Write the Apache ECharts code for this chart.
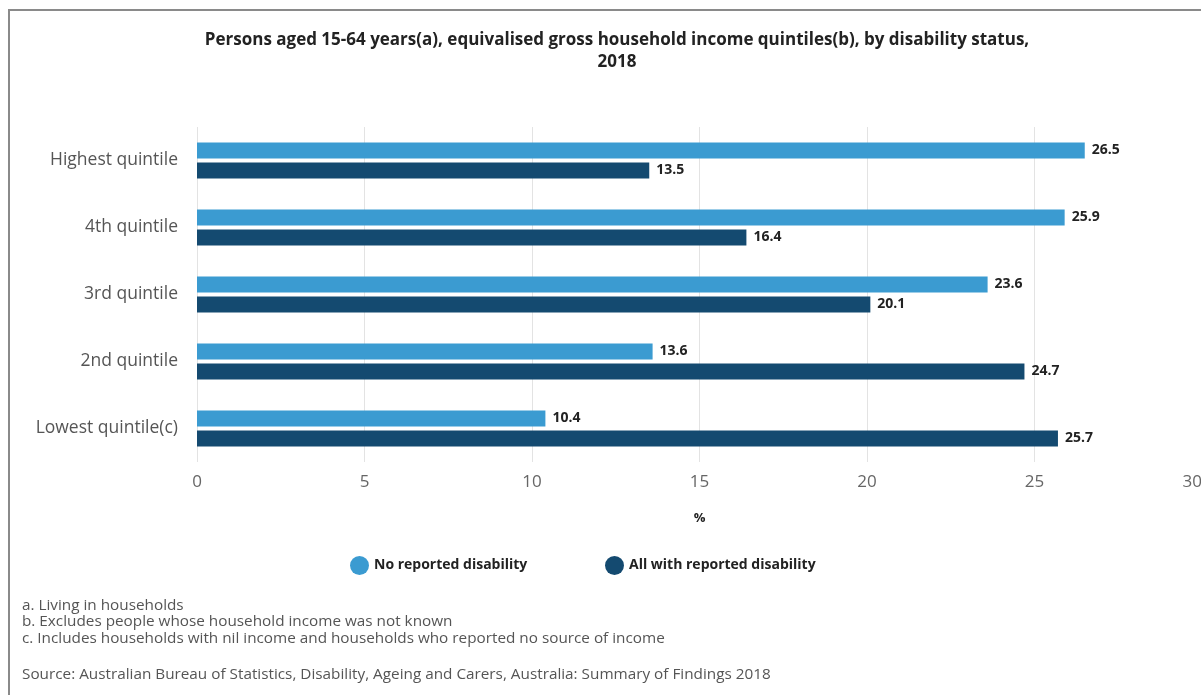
<!DOCTYPE html>
<html>
<head>
<meta charset="utf-8">
<script src="https://cdn.jsdelivr.net/npm/echarts@6/dist/echarts.min.js"></script>
<style>
  html, body { margin: 0; padding: 0; background: #fff; }
  #chart { width: 1201px; height: 695px; }
</style>
</head>
<body>
<div id="chart"></div>
<script>
const categories = ['Highest quintile', '4th quintile', '3rd quintile', '2nd quintile', 'Lowest quintile(c)'];
const noDisability = [26.5, 25.9, 23.6, 13.6, 10.4];
const withDisability = [13.5, 16.4, 20.1, 24.7, 25.7];
const footnotes = [
  'a. Living in households',
  'b. Excludes people whose household income was not known',
  'c. Includes households with nil income and households who reported no source of income'
];
const sourceText = 'Source: Australian Bureau of Statistics, Disability, Ageing and Carers, Australia: Summary of Findings 2018';

const font = '"Open Sans", "Noto Sans", sans-serif';
const chart = echarts.init(document.getElementById('chart'));

const valueLabel = {
  show: true,
  position: 'right',
  distance: 7,
  color: '#222',
  fontFamily: font,
  fontWeight: 'bold',
  fontSize: 14
};

const legendText = { fontFamily: font, fontSize: 14, fontWeight: 'bold', color: '#222' };

chart.setOption({
  animation: false,
  title: {
    text: 'Persons aged 15-64 years(a), equivalised gross household income quintiles(b), by disability status,\n2018',
    left: 612,
    top: 24,
    textAlign: 'center',
    textStyle: {
      fontFamily: font,
      fontSize: 17,
      fontWeight: 'bold',
      color: '#222',
      lineHeight: 22
    }
  },
  legend: [
    {
      data: ['No reported disability'],
      left: 345,
      top: 551,
      icon: 'circle',
      itemWidth: 19,
      itemHeight: 19,
      textStyle: legendText
    },
    {
      data: ['All with reported disability'],
      left: 600,
      top: 551,
      icon: 'circle',
      itemWidth: 19,
      itemHeight: 19,
      textStyle: legendText
    }
  ],
  grid: {
    left: 197,
    top: 127,
    width: 1005,
    height: 335,
    containLabel: false,
    outerBoundsMode: 'none'
  },
  xAxis: {
    type: 'value',
    min: 0,
    max: 30,
    interval: 5,
    name: '%',
    nameLocation: 'middle',
    nameGap: 50,
    nameTextStyle: { fontFamily: font, fontSize: 13, fontWeight: 'bold', color: '#222' },
    axisLine: { show: false },
    axisTick: { show: false },
    axisLabel: { margin: 12, fontFamily: font, fontSize: 17, color: '#666', alignMaxLabel: 'right' },
    splitLine: { lineStyle: { color: '#e3e3e3', width: 1 } }
  },
  yAxis: {
    type: 'category',
    inverse: true,
    data: categories,
    axisLine: { show: false },
    axisTick: { show: false },
    axisLabel: { margin: 19, fontFamily: font, fontSize: 17.5, color: '#555' }
  },
  series: [
    {
      name: 'No reported disability',
      type: 'bar',
      data: noDisability,
      barWidth: 16,
      barGap: '25%',
      itemStyle: { color: '#3b9bd1' },
      label: valueLabel
    },
    {
      name: 'All with reported disability',
      type: 'bar',
      data: withDisability,
      barWidth: 16,
      barGap: '25%',
      itemStyle: { color: '#144a70' },
      label: valueLabel
    }
  ],
  graphic: [
    {
      type: 'rect',
      shape: { x: 9, y: 10, width: 1300, height: 800 },
      style: { fill: 'none', stroke: '#8a8a8a', lineWidth: 2 },
      silent: true
    },
    ...footnotes.map((line, i) => ({
      type: 'text',
      left: 22,
      top: 598 + i * 16.5,
      style: { text: line, fontFamily: font, fontSize: 15.3, fill: '#555' }
    })),
    {
      type: 'text',
      left: 22,
      top: 667,
      style: { text: sourceText, fontFamily: font, fontSize: 15.3, fill: '#555' }
    }
  ]
});

window.addEventListener('resize', () => {
  chart.resize();
});
</script>
</body>
</html>
